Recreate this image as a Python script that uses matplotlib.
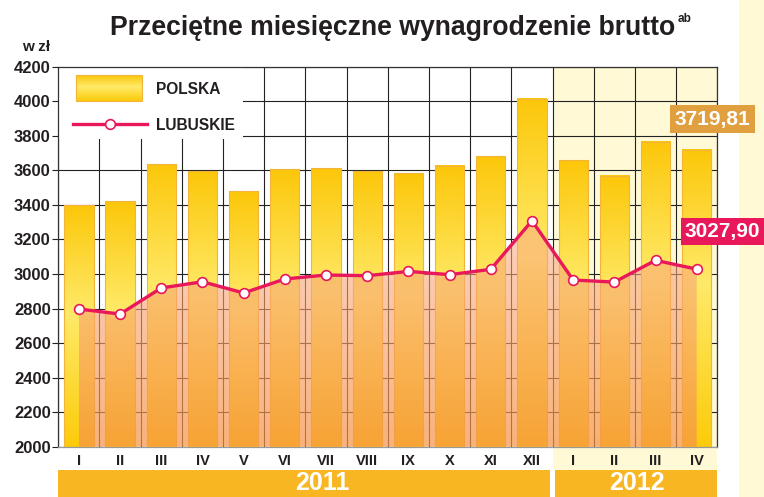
import numpy as np
import matplotlib
matplotlib.use("Agg")
import matplotlib.pyplot as plt
from matplotlib.colors import LinearSegmentedColormap, to_rgba
from matplotlib.patches import Rectangle
from matplotlib.transforms import blended_transform_factory

months = ["I", "II", "III", "IV", "V", "VI", "VII", "VIII", "IX", "X", "XI", "XII",
          "I", "II", "III", "IV"]
years = ["2011", "2012"]
polska = [3397, 3422, 3638, 3596, 3482, 3605, 3611, 3597, 3584, 3627, 3681, 4015,
          3660, 3569, 3766, 3719.81]
lubuskie = [2797, 2768, 2919, 2955, 2890, 2971, 2994, 2990, 3015, 2996, 3027, 3308,
            2965, 2953, 3079, 3027.90]
yticks = list(range(2000, 4201, 200))

TXT = "#231f20"
LIGHT = "#fff9d6"
BAND = "#f9b623"
RED = "#e8185a"

plt.rcParams["font.family"] = ["Liberation Sans", "DejaVu Sans"]
plt.rcParams["font.weight"] = "bold"

fig = plt.figure(figsize=(7.64, 4.97), dpi=100)
fig.patches.append(Rectangle((739 / 764, 0), 1 - 739 / 764, 1, transform=fig.transFigure,
                             facecolor=LIGHT, edgecolor="none", zorder=0))
ax = fig.add_axes([58.3 / 764, 50.3 / 497, 659 / 764, 380 / 497])

x = np.arange(len(months))
n12 = 4
start12 = len(months) - n12

# 2012 shaded region, reaching down into the tick label row
bt = blended_transform_factory(ax.transData, ax.transAxes)
ax.add_patch(Rectangle((start12 - 0.5, -0.061), n12, 1.061, transform=bt,
                       facecolor=LIGHT, edgecolor="none", zorder=0.2, clip_on=False))
# year bands
ax.add_patch(Rectangle((-0.5, -0.1313), start12 - 0.05, 0.07, transform=bt,
                       facecolor=BAND, edgecolor="none", clip_on=False))
ax.add_patch(Rectangle((start12 - 0.45, -0.1313), n12 - 0.05, 0.07, transform=bt,
                       facecolor=BAND, edgecolor="none", clip_on=False))
ax.text(5.9, -0.0963, years[0], transform=bt, ha="center", va="center",
        color="white", fontsize=18)
ax.text(start12 + 1.55, -0.0963, years[1], transform=bt, ha="center", va="center",
        color="white", fontsize=18)

# grid
ax.set_axisbelow(True)
ax.set_xticks(x)
ax.set_xticks(np.arange(-0.5, len(months)), minor=True)
ax.grid(which="minor", axis="x", color="#222222", lw=0.8)
ax.grid(which="major", axis="y", color="#222222", lw=0.8)
ax.grid(which="major", axis="x", visible=False)

# legend backdrop
ax.add_patch(Rectangle((0, 0.81), 0.28, 0.19, transform=ax.transAxes,
                       facecolor="white", edgecolor="none", zorder=0.8))

# gradient bars
bar_cmap = LinearSegmentedColormap.from_list(
    "bar", [(0, "#fcc70a"), (0.45, "#ffea69"), (1, "#fccb0a")])
grad = np.linspace(0, 1, 256).reshape(-1, 1)
w = 0.71
for xi, v in zip(x, polska):
    ax.imshow(grad, cmap=bar_cmap, extent=[xi - w / 2, xi + w / 2, 2000, v],
              aspect="auto", origin="upper", zorder=2, interpolation="bilinear")
ax.bar(x, np.array(polska) - 2000, bottom=2000, width=w, facecolor="none",
       edgecolor="#f2b43a", lw=0.8, zorder=2.1)

# translucent area under the regional line
top_c = np.array(to_rgba((250 / 255, 172 / 255, 135 / 255), 0.55))
bot_c = np.array(to_rgba((246 / 255, 148 / 255, 71 / 255), 0.72))
t = np.linspace(0, 1, 256)[:, None, None]
area_img = np.repeat(top_c * (1 - t) + bot_c * t, 2, axis=1)
poly = ax.fill_between(x, lubuskie, 2000, facecolor="none", edgecolor="none")
im = ax.imshow(area_img, extent=[0, len(x) - 1, 2000, max(lubuskie)], aspect="auto",
               origin="upper", zorder=3, interpolation="bilinear")
im.set_clip_path(poly.get_paths()[0], transform=ax.transData)

ax.plot(x, lubuskie, color=RED, lw=2.4, marker="o", ms=7, mfc="white", mec=RED,
        mew=1.2, zorder=4)

# legend
lg = bar_cmap(np.linspace(0, 1, 64))[:, None, :]
ax.imshow(lg, extent=[0.027, 0.127, 0.91, 0.978], transform=ax.transAxes,
          aspect="auto", zorder=5, interpolation="bilinear")
ax.add_patch(Rectangle((0.027, 0.91), 0.1, 0.068, transform=ax.transAxes,
                       facecolor="none", edgecolor="#f2b43a", lw=0.8, zorder=5.1))
ax.plot([0.0223, 0.1347], [0.8484, 0.8484], transform=ax.transAxes, color=RED,
        lw=2.4, zorder=5, clip_on=False)
ax.plot([0.0784], [0.8484], transform=ax.transAxes, marker="o", ms=7, mfc="white",
        mec=RED, mew=1.2, zorder=5.2, clip_on=False)
ax.text(0.1482, 0.9387, "POLSKA", transform=ax.transAxes, va="center", fontsize=11.2,
        color=TXT, zorder=6)
ax.text(0.1482, 0.8447, "LUBUSKIE", transform=ax.transAxes, va="center", fontsize=11.2,
        color=TXT, zorder=6)

# axes styling
ax.set_xlim(-0.5, len(months) - 0.5)
ax.set_ylim(2000, 4200)
ax.set_yticks(yticks)
ax.set_yticklabels([str(v) for v in yticks], fontsize=12, color=TXT)
ax.set_xticklabels(months, fontsize=10.5, color=TXT)
ax.tick_params(axis="x", which="both", length=0, pad=5.5)
ax.tick_params(axis="y", length=4, width=0.8, color="#222222", pad=1.5)
for s in ax.spines.values():
    s.set_color("#333333")
    s.set_linewidth(0.9)
ax.spines["bottom"].set_color("#999999")

# titles and value labels
title = fig.text(393 / 764, 1 - 28 / 497, "Przeciętne miesięczne wynagrodzenie brutto",
                 ha="center", va="center", fontsize=19.2, color=TXT)
fig.canvas.draw()
tb = title.get_window_extent()
fig.text((tb.x1 + 2) / 764, 1 - 19 / 497, "ab", ha="left", va="center", fontsize=8.5,
         color=TXT)
fig.text(21.7 / 764, 1 - 47 / 497, "w zł", ha="left", va="center", fontsize=11, color=TXT)

fmt = lambda v: f"{v:.2f}".replace(".", ",")
fig.text(712.5 / 764, 1 - 119 / 497, fmt(polska[-1]), ha="center", va="center",
         fontsize=15, color="white",
         bbox=dict(boxstyle="square,pad=0.2", facecolor="#e0a040", edgecolor="none"))
fig.text(722.5 / 764, 1 - 231.5 / 497, fmt(lubuskie[-1]), ha="center", va="center",
         fontsize=15, color="white",
         bbox=dict(boxstyle="square,pad=0.2", facecolor=RED, edgecolor="none"))

fig.savefig("out.png", dpi=100)
